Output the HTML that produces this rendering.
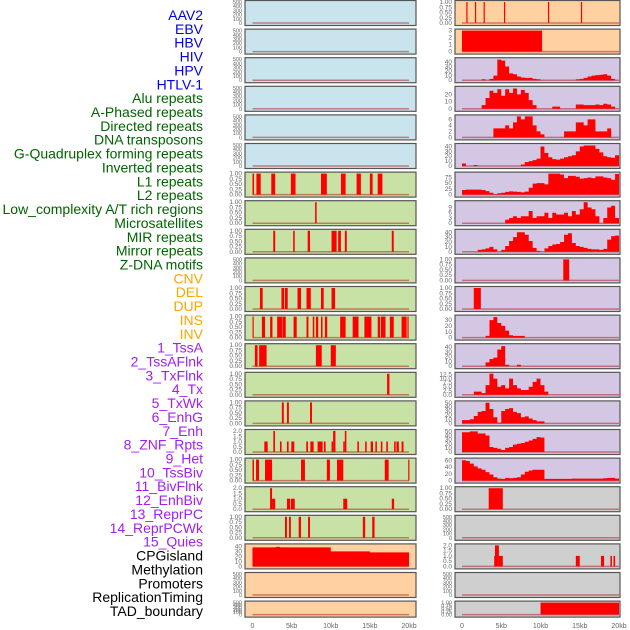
<!DOCTYPE html>
<html><head><meta charset="utf-8">
<style>
html,body{margin:0;padding:0;background:#fff;}
svg{display:block;font-family:"Liberation Sans",sans-serif;}
</style></head>
<body>
<svg id="chart" width="630" height="630" viewBox="0 0 630 630"></svg>
<script>
// ---- data ----
const trackLabels = ["AAV2","EBV","HBV","HIV","HPV","HTLV-1","Alu repeats","A-Phased repeats","Directed repeats","DNA transposons","G-Quadruplex forming repeats","Inverted repeats","L1 repeats","L2 repeats","Low_complexity A/T rich regions","Microsatellites","MIR repeats","Mirror repeats","Z-DNA motifs","CNV","DEL","DUP","INS","INV","1_TssA","2_TssAFlnk","3_TxFlnk","4_Tx","5_TxWk","6_EnhG","7_Enh","8_ZNF_Rpts","9_Het","10_TssBiv","11_BivFlnk","12_EnhBiv","13_ReprPC","14_ReprPCWk","15_Quies","CPGisland","Methylation","Promoters","ReplicationTiming","TAD_boundary"];
const labelGroups = [6,13,5,15,5];
const groupColors = ["#0000ee","#006400","#ffa500","#a020f0","#000000"];
const xTickValues = [0,5,10,15,20];
const xTickLabels = ["0","5kb","10kb","15kb","20kb"];

// left column tracks: bg, max, kind, data
const leftBg = ["b","b","b","b","b","b","g","g","g","g","g","g","g","g","g","g","g","g","g","o","o","o"];
const leftMax = [500,500,500,500,500,500,1,1,1,500,1,1,1,1,1,2,1,2,1,42,500,500];
const leftIntervals = [
 [],[],[],[],[],[],
 [[0,0.2,1],[0.5,1.05,1],[2.4,2.9,1],[4.9,5.5,1],[8.75,9.5,1],[11.3,11.9,1],[13.3,13.85,1],[15,15.35,1],[16,16.6,1]],
 [[8.0,8.2,1]],
 [[2.65,2.9,1],[5.2,5.4,1],[7.05,7.35,1],[10.1,10.75,1],[10.95,11.3,1],[11.8,12.05,1],[17.8,18.05,1]],
 [],
 [[0.95,1.3,1],[3.7,4.05,1],[4.15,4.5,1],[5.75,6.2,1],[6.9,7.45,1],[8.75,9.1,1],[10.1,10.55,1]],
 [[0,0.15,1],[1.2,1.6,1],[2.25,2.55,1],[3.15,3.8,1],[3.85,4.25,1],[5.25,5.65,1],[6.9,7.15,1],[7.7,7.9,1],[8.1,8.4,1],[8.75,8.95,1],[9.25,9.55,1],[11.2,11.9,1],[12.8,13.55,1],[14.3,15.2,1],[16,16.3,1],[16.4,17,1],[17.55,18.05,1],[19.05,19.7,1],[19.8,19.95,1]],
 [[0.3,0.65,1],[0.85,1.8,1],[8.1,8.85,1],[10,10.65,1]],
 [[17.2,17.5,1]],
 [[3.75,4.0,1],[4.4,4.65,1],[7.35,7.6,1]],
 [[1.51,1.94,1],[2.66,2.87,2],[3.51,3.72,1],[4.4,4.62,1],[4.96,5.34,1],[6.87,7.09,1],[7.39,7.81,1],[8.32,8.96,1],[9.13,9.34,1],[10.1,10.3,1],[10.3,10.6,2],[11.6,11.8,1],[11.8,12.0,2],[13.4,13.6,1],[14.4,14.6,1],[15.1,15.4,1],[15.7,15.9,1],[16.4,16.6,1],[17.1,17.3,1],[18.1,18.3,1],[18.4,18.7,1],[19.05,19.3,1]],
 [[0,0.19,1],[0.45,0.83,1],[1.6,2.5,1],[6.2,6.7,1],[9.5,9.9,1],[10.8,11.6,1],[16.9,17.4,1],[19.9,20.0,1]],
 [[2.24,2.5,2],[2.5,2.9,1],[4.4,4.8,1],[4.9,5.4,1],[11.6,12.1,1],[17.8,18.1,1]],
 [[4.15,4.4,1],[4.66,4.9,1],[5.9,6.2,1],[7.1,7.35,1],[14.1,14.4,1],[15.3,15.6,1]],
 [],[],[]
];
const cpgValues = [38,38,38,38,38,38,39,38,38,38,38,38,38,38,38,38,38,38,38,38,30,30,30,30,30,30,30,30,30,30,28,28,28,28,28,28,28,28,28,28];

// right column tracks
const rightBg = ["o","o","p","p","p","p","p","p","p","p","p","p","p","p","p","p","p","y","y","y","y","y"];
const rightMax = [1,3,46,29,7,43,92,12,43,1,1,36,44,13,51,51,62,1,500,2,500,1];
const rightIntervals = {
 0:[[0.55,0.7,1],[1.65,1.8,1],[2.75,2.9,1],[5.35,5.5,1],[10.95,11.1,1],[15.15,15.3,1]],
 1:[[0,10.2,3]],
 9:[[12.9,13.65,1]],
 10:[[1.5,2.4,1]],
 17:[[3.4,5.2,1]],
 19:[[4.1,4.2,1],[4.2,4.7,2],[4.7,5.2,1],[14.5,15.0,1],[17.7,18.1,1],[18.9,19.1,1],[19.3,19.5,1]],
 21:[[10,20,1]]
};
const hivValues = [0,0,0,0,0,2,0,3,10,45,43,30,15,13,8,6,5,5,3,2,0,0,0,0,0,0,0,0,0,2,3,5,8,10,11,12,13,10,3,0];
const hpvValues = [0,0,0,0,0,5,15,25,22,27,18,27,22,28,20,26,22,12,5,0,0,0,0,3,3,0,0,0,0,6,6,5,5,5,6,5,7,6,3,0];
const htlvValues = [0,0,0,0,0,0,0,0,3,3,3,4,3,5,7,6,7,7,4,2,1,0,0,0,0,0,2,2,2,5,5,4,6,6,2,2,2,3,0,0];
const aluValues = [5,0,0,2,0,0,0,0,0,0,0,0,0,0,0,3,8,10,12,15,40,27,18,14,13,15,18,20,22,30,40,42,42,42,35,28,20,18,17,22];
const directedValues = [20,22,22,22,22,20,15,8,2,6,8,12,14,13,12,10,13,30,48,50,50,45,92,92,92,88,72,82,82,78,70,72,75,72,80,80,75,72,65,90];
const dnaTransValues = [0,0,0,0,0,0,0,0,0,0,0,2,3,4,3,4,4,7,3,4,4,6,3,6,5,5,6,4,7,5,8,12,9,8,4,0,3,9,10,3];
const gquadValues = [0,0,0,0,4,5,7,10,5,0,4,12,22,30,40,40,35,22,8,2,0,7,12,15,16,20,35,38,18,12,10,8,6,5,5,4,6,25,32,33];
const tssaValues = [0,0,0,0,0,0,3,30,35,25,20,12,4,3,3,3,0,0,0,0,0,0,0,0,0,0,0,0,0,0,0,0,0,0,0,0,0,0,0,0];
const tssaflnkValues = [0,0,0,0,0,0,8,15,18,35,42,3,0,0,3,0,0,0,0,0,0,0,0,0,0,0,0,0,0,0,0,0,0,0,0,0,0,0,0,0];
const txflnkValues = [0,0,0,2,2,1,6,13,10,5,6,4,10,6,4,3,3,5,8,10,6,2,0,0,0,0,0,0,0,0,0,0,0,0,0,0,0,0,0,0];
const txValues = [8,8,10,18,28,30,50,35,15,2,30,35,37,28,25,15,17,12,8,5,5,0,0,0,0,0,0,0,0,0,0,0,0,0,0,0,0,0,0,0];
const txwkValues = [48,48,50,50,45,45,40,12,10,8,5,10,12,18,20,22,25,28,32,36,35,0,0,0,0,0,0,0,0,0,0,0,0,0,0,0,0,0,0,0];
const enhgValues = [60,58,50,42,36,32,25,18,10,6,5,8,7,8,10,18,26,30,32,32,32,5,5,5,5,5,5,5,6,6,6,6,6,6,6,6,7,8,8,6];
const rightAreas = {2:hivValues,3:hpvValues,4:htlvValues,5:aluValues,6:directedValues,7:dnaTransValues,8:gquadValues,11:tssaValues,12:tssaflnkValues,13:txflnkValues,14:txValues,15:txwkValues,16:enhgValues};

const tickSets = {
 500:["0","100","200","300","400","500"], 1:["0.00","0.25","0.50","0.75","1.00"], 2:["0.0","0.5","1.0","1.5","2.0"],
 3:["0","1","2","3"], 42:["0","10","20","30","40"], 46:["0","10","20","30","40"], 29:["0","10","20"], 7:["0","2","4","6"],
 43:["0","10","20","30","40"], 92:["0","25","50","75"], 12:["0","3","6","9"], 36:["0","10","20","30"], 44:["0","10","20","30","40"],
 13:["0.0","2.5","5.0","7.5","10.0","12.5"], 51:["0","10","20","30","40","50"], 62:["0","20","40","60"]
};
// ---- drawing ----
const NS="http://www.w3.org/2000/svg";
const svg=document.getElementById('chart');
const bgColors={b:"#c9e4ec",g:"#c8e2a6",o:"#ffd1a1",p:"#d4c7e3",y:"#cfcfcf"};
function mk(tag,attrs,parent){const e=document.createElementNS(NS,tag);for(const k in attrs)e.setAttribute(k,attrs[k]);(parent||svg).appendChild(e);return e;}

// labels
let li=0;
labelGroups.forEach((n,gi)=>{for(let j=0;j<n;j++){
  const t=mk('text',{x:203,y:20+li*13.86,'text-anchor':'end','font-size':14,fill:groupColors[gi]});
  t.textContent=trackLabels[li];
  
  
  li++;}});

const cols=[{x0:245,x1:416,d0:252.5,d1:409},{x0:455,x1:620,d0:462,d1:619}];
function rowGeom(i){const top=0.5+i*28.6;const h=(i===21)?16:25;return {top,h};}

function drawPanel(col,i,bg,max,intervals,areaVals,side){
  const c=cols[col];const g=rowGeom(i);
  const grp=mk('g',{});
  
  
  mk('rect',{x:c.x0,y:g.top,width:c.x1-c.x0,height:g.h,fill:bgColors[bg]},grp);
  const yb=g.top+g.h-2.5, yt=g.top+1.5;
  const xs=v=>c.d0+(v/20)*(c.d1-c.d0);
  const ys=v=>yb-(v/max)*(yb-yt);
  // ticks
  const labs=tickSets[max]||["0"];
  const step=(max===500)?100:null;
  labs.forEach(l=>{const v=parseFloat(l);const ty=ys(v);
    const t=mk('text',{x:c.x0-3,y:ty+2,'text-anchor':'end','font-size':(max===500||g.h<20)?5.5:6.5,fill:'#666'},grp);
    t.textContent=l;
    
    });
  // baseline
  mk('line',{x1:xs(0),x2:xs(20),y1:yb,y2:yb,stroke:'rgba(170,0,0,0.45)','stroke-width':1.5},grp);
  if(intervals){intervals.forEach(iv=>{
    const x=xs(iv[0]),w=Math.max(1.2,xs(iv[1])-xs(iv[0]));
    const r=mk('rect',{x:x,y:ys(iv[2]),width:w,height:yb-ys(iv[2]),fill:'#ff0000'},grp);
    
    });}
  if(areaVals){let d='M'+xs(0)+','+yb;
    areaVals.forEach((v,k)=>{d+=' L'+xs(k*0.5)+','+ys(v)+' L'+xs((k+1)*0.5)+','+ys(v);});
    d+=' L'+xs(20)+','+yb+' Z';
    const p=mk('path',{d:d,fill:'#ff0000'},grp);
    
    }
  mk('rect',{x:c.x0,y:g.top,width:c.x1-c.x0,height:g.h,fill:'none',stroke:'#555','stroke-width':1.2},grp);
}
for(let i=0;i<22;i++){
  drawPanel(0,i,leftBg[i],leftMax[i],leftIntervals[i],i===19?cpgValues:null,'left');
  drawPanel(1,i,rightBg[i],rightMax[i],rightIntervals[i]||null,rightAreas[i]||null,'right');
}
// x axes
cols.forEach((c,ci)=>{xTickValues.forEach((v,k)=>{
  const t=mk('text',{x:c.d0+(v/20)*(c.d1-c.d0),y:628,'text-anchor':'middle','font-size':7,fill:'#666'});
  t.textContent=xTickLabels[k];
  
  });});
</script>
</body></html>
